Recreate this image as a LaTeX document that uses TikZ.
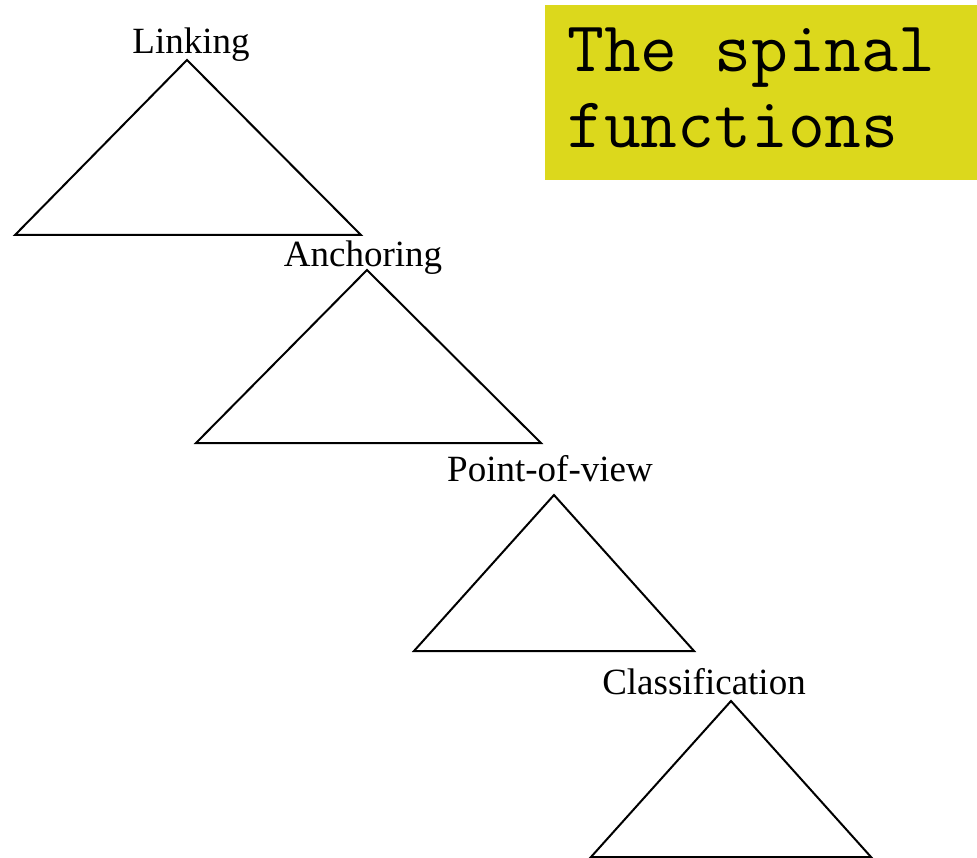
\documentclass[tikz,border=0pt]{standalone}
\usepackage{fontspec}
\setmainfont{Liberation Serif}
\usepackage{tikz}
\usetikzlibrary{positioning}
\definecolor{Mustard}{HTML}{DCD81C}
\tikzset{
  x=1pt, y=-1pt,
  tri/.style={draw=black, line width=2pt, line join=miter},
  lbl/.style={anchor=base, inner sep=0pt, font=\fontsize{37}{44}\selectfont},
  titlebox/.style={fill=Mustard, anchor=north west, minimum width=432pt, minimum height=175pt, inner sep=0pt},
  titletext/.style={anchor=base west, inner sep=0pt, align=left, font=\ttfamily\fontsize{71.5}{76}\selectfont}
}

\begin{document}
\begin{tikzpicture}
    \useasboundingbox (0,0) rectangle (977,858);
    % title box
    \node [titlebox] (box) at (545,5) {};
    \node [titletext] (title) at (567,148) {The spinal\\functions};
    % the four triangles
    \coordinate (t1) at (187,60);
    \coordinate (t2) at (367,270);
    \coordinate (t3) at (554,495);
    \coordinate (t4) at (731,701);
    \draw [tri] (t1) -- (15,235) -- (361,235) -- cycle;
    \draw [tri] (t2) -- (196,443) -- (541,443) -- cycle;
    \draw [tri] (t3) -- (414,651) -- (694,651) -- cycle;
    \draw [tri] (t4) -- (591,857) -- (871,857) -- cycle;
    % labels
    \node [lbl] (link) at (191,54) {Linking};
    \node [lbl] (anch) at (363,267) {Anchoring};
    \node [lbl] (pov) at (550,481) {Point-of-view};
    \node [lbl] (class) at (704,694) {Classification};
\end{tikzpicture}
\end{document}
